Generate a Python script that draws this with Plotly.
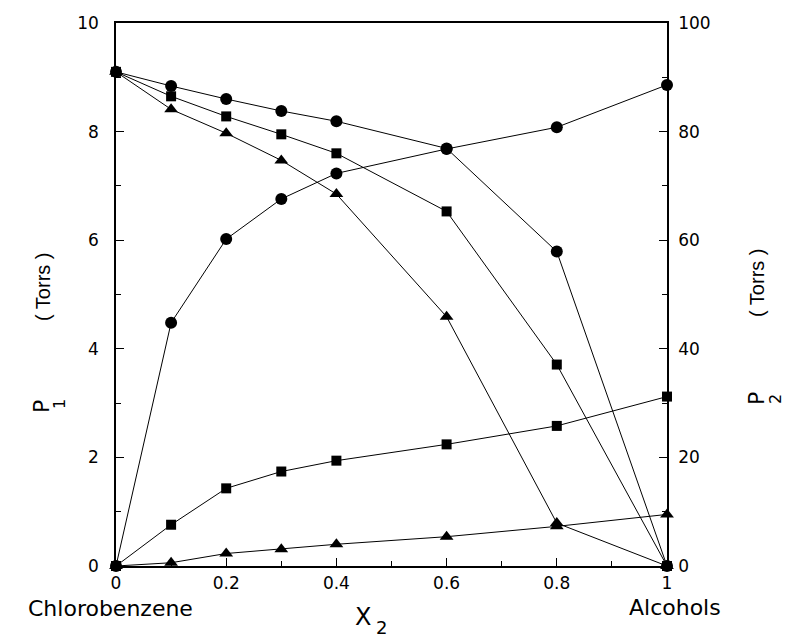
import plotly.graph_objects as go

# ---- data ----
x2 = [0.0, 0.1, 0.2, 0.3, 0.4, 0.6, 0.8, 1.0]
p1_circle = [9.1, 8.84, 8.6, 8.38, 8.19, 7.69, 5.79, 0.0]
p1_square = [9.1, 8.65, 8.28, 7.95, 7.6, 6.53, 3.71, 0.0]
p1_triangle = [9.1, 8.41, 7.97, 7.47, 6.85, 4.59, 0.79, 0.0]
p2_circle = [0.0, 44.8, 60.2, 67.6, 72.3, 76.8, 80.8, 88.6]
p2_square = [0.0, 7.6, 14.3, 17.4, 19.4, 22.4, 25.8, 31.2]
p2_triangle = [0.0, 0.6, 2.3, 3.1, 4.0, 5.4, 7.3, 9.5]

x_ticks = [0, 0.2, 0.4, 0.6, 0.8, 1]
x_tick_text = ["0", "0.2", "0.4", "0.6", "0.8", "1"]
y1_ticks = [0, 2, 4, 6, 8, 10]
y2_ticks = [0, 20, 40, 60, 80, 100]

W, H = 786, 641
L, R, T, B = 116, 119, 23, 75
PW, PH = W - L - R, H - T - B


def px(xp):
    return (xp - L) / PW


def py(yp):
    return 1 - (yp - T) / PH


FONT = "DejaVu Sans"
fig = go.Figure()

symbols = {"circle": ("circle", 12), "square": ("square", 10), "triangle": ("triangle-up", 12)}

for name, ys in [("circle", p1_circle), ("square", p1_square), ("triangle", p1_triangle)]:
    sym, sz = symbols[name]
    fig.add_trace(go.Scatter(x=x2, y=ys, mode="lines+markers", yaxis="y",
                             line=dict(color="black", width=1),
                             marker=dict(symbol=sym, size=sz, color="black"),
                             cliponaxis=False, showlegend=False))

for name, ys in [("circle", p2_circle), ("square", p2_square), ("triangle", p2_triangle)]:
    sym, sz = symbols[name]
    fig.add_trace(go.Scatter(x=x2, y=ys, mode="lines+markers", yaxis="y2",
                             line=dict(color="black", width=1),
                             marker=dict(symbol=sym, size=sz, color="black"),
                             cliponaxis=False, showlegend=False))

tickfont = dict(family=FONT, size=17, color="black")

fig.update_layout(
    width=W, height=H,
    margin=dict(l=L, r=R, t=T, b=B),
    paper_bgcolor="white", plot_bgcolor="white",
    xaxis=dict(range=[0, 1], tickvals=x_ticks, ticktext=x_tick_text,
               ticks="inside", ticklen=8, tickwidth=1.2, tickcolor="black",
               minor=dict(ticks="inside", ticklen=5, dtick=0.1, tickcolor="black", tickwidth=1),
               showline=True, linecolor="black", linewidth=1.5, mirror=True,
               showgrid=False, zeroline=False, tickfont=tickfont, ticklabelstandoff=1),
    yaxis=dict(range=[0, 10], tickvals=y1_ticks,
               ticks="inside", ticklen=8, tickwidth=1.2, tickcolor="black",
               minor=dict(ticks="inside", ticklen=5, dtick=1, tickcolor="black", tickwidth=1),
               showline=True, linecolor="black", linewidth=1.5,
               showgrid=False, zeroline=False, tickfont=tickfont, ticklabelstandoff=12),
    yaxis2=dict(range=[0, 100], tickvals=y2_ticks, overlaying="y", side="right",
                ticks="inside", ticklen=8, tickwidth=1.2, tickcolor="black",
                minor=dict(ticks="inside", ticklen=5, dtick=10, tickcolor="black", tickwidth=1),
                showline=True, linecolor="black", linewidth=1.5,
                showgrid=False, zeroline=False, tickfont=tickfont, ticklabelstandoff=6),
)

ann = []


def add(text, xp, yp, size, angle=0, family=FONT):
    ann.append(dict(text=text, x=px(xp), y=py(yp), xref="paper", yref="paper",
                    xanchor="center", yanchor="middle", showarrow=False, textangle=angle,
                    font=dict(family=family, size=size, color="black")))


add("Chlorobenzene", 110, 608, 22)
add("Alcohols", 675, 607, 22)
add("X", 363, 617, 24)
add("2", 381, 627, 18)
add("P", 41, 407, 22, -90)
add("1", 59, 404, 16, -90)
add("( Torrs )", 43, 287, 20, -90, "Liberation Sans")
add("P", 756, 399, 22, -90)
add("2", 775, 399, 16, -90)
add("( Torrs )", 757, 283, 20, -90, "Liberation Sans")

fig.update_layout(annotations=ann)
fig.write_html("out.html")
